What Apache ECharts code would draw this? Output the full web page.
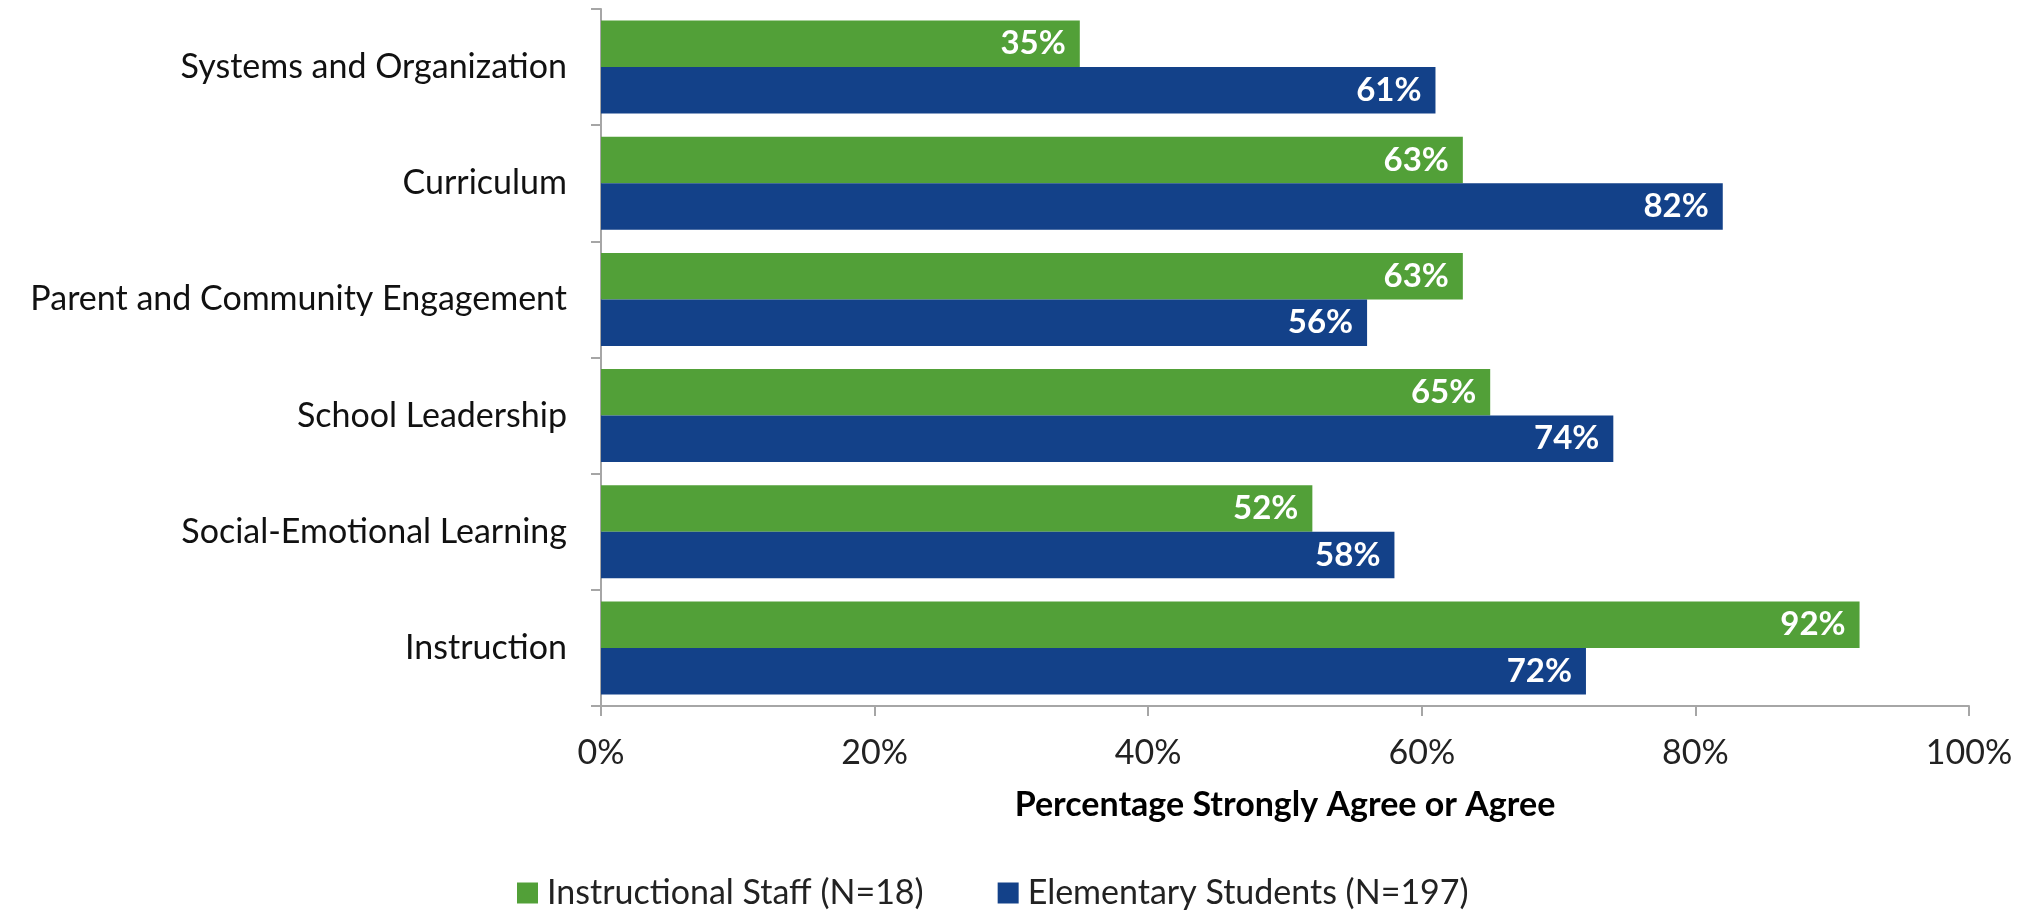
<!DOCTYPE html>
<html>
<head>
<meta charset="utf-8">
<script src="https://cdn.jsdelivr.net/npm/echarts@6/dist/echarts.min.js"></script>
<style>
  html, body { margin: 0; padding: 0; background: #fff; }
  #myChart { width: 2030px; height: 910px; }
</style>
</head>
<body>
<div id="myChart"></div>
<script>
// categories, top to bottom
var categories = [
  'Systems and Organization',
  'Curriculum',
  'Parent and Community Engagement',
  'School Leadership',
  'Social-Emotional Learning',
  'Instruction'
];
var staffName = 'Instructional Staff (N=18)';
var studentName = 'Elementary Students (N=197)';
var staffValues = [35, 63, 63, 65, 52, 92];
var studentValues = [61, 82, 56, 74, 58, 72];
var xTicks = [0, 20, 40, 60, 80, 100];

var fontName = 'Lato, "Open Sans", sans-serif';

var myChart = echarts.init(document.getElementById('myChart'));

function barLabel() {
  return {
    show: true,
    position: 'insideRight',
    distance: 14,
    color: '#fff',
    fontWeight: 'bold',
    fontSize: 33,
    fontFamily: fontName,
    formatter: function (p) { return p.value + '%'; }
  };
}

myChart.setOption({
  animation: false,
  textStyle: { fontFamily: fontName },
  grid: { left: 601, right: 61, top: 9, bottom: 204, containLabel: false },
  legend: {
    top: 871,
    left: 512,
    itemWidth: 21,
    itemHeight: 21,
    itemGap: 74,
    icon: 'rect',
    textStyle: { fontSize: 34, color: '#222', fontFamily: fontName, padding: [0, 0, 0, 4] },
    data: [staffName, studentName]
  },
  xAxis: {
    type: 'value',
    min: xTicks[0],
    max: xTicks[xTicks.length - 1],
    interval: 20,
    name: 'Percentage Strongly Agree or Agree',
    nameLocation: 'middle',
    nameGap: 82,
    nameTextStyle: { fontSize: 34, fontWeight: 'bold', color: '#000', fontFamily: fontName },
    axisLine: { show: true, lineStyle: { color: '#a6a6a6', width: 2 } },
    axisTick: { show: true, length: 10, lineStyle: { color: '#a6a6a6', width: 2 } },
    axisLabel: { fontSize: 34, color: '#222', margin: 30, formatter: '{value}%' },
    splitLine: { show: false }
  },
  yAxis: {
    type: 'category',
    inverse: true,
    data: categories,
    axisLine: { show: true, lineStyle: { color: '#a6a6a6', width: 2 } },
    axisTick: { show: true, length: 10, lineStyle: { color: '#a6a6a6', width: 2 } },
    axisLabel: { fontSize: 34, color: '#111', margin: 34 }
  },
  series: [
    {
      name: staffName,
      type: 'bar',
      data: staffValues,
      barCategoryGap: '20%',
      barGap: '0%',
      itemStyle: { color: '#52a038' },
      label: barLabel()
    },
    {
      name: studentName,
      type: 'bar',
      data: studentValues,
      barCategoryGap: '20%',
      barGap: '0%',
      itemStyle: { color: '#134189' },
      label: barLabel()
    }
  ]
});
</script>
</body>
</html>
